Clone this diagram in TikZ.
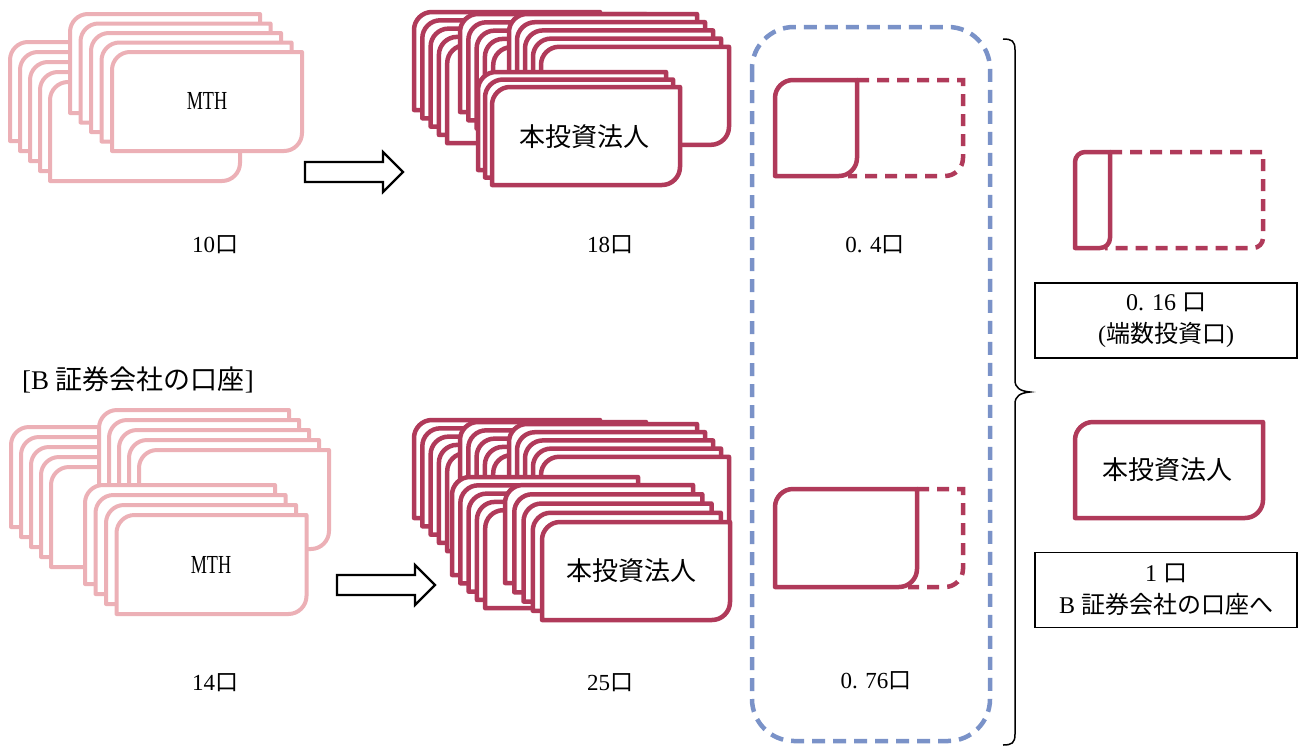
\documentclass[tikz,border=0pt]{standalone}
\usepackage{fontspec}
\setmainfont{Liberation Serif}
\newfontfamily\cjk{Noto Sans CJK JP}
\definecolor{pinkc}{RGB}{236,176,182}
\definecolor{redc}{RGB}{176,58,90}
\definecolor{bluec}{RGB}{122,146,200}
\def\crad{18}
% centerline card: x0 y0 x1 y1
\newcommand\crd[5]{%
 \draw[#1] (#2,#5) -- (#2,{#3+\crad}) .. controls (#2,{#3+\crad*0.45}) and ({#2+\crad*0.45},#3) .. ({#2+\crad},#3)
   -- (#4,#3) -- (#4,{#5-\crad}) .. controls (#4,{#5-\crad*0.45}) and ({#4-\crad*0.45},#5) .. ({#4-\crad},#5) -- cycle;}
% stack: style, X, Y, dx, dy, n, W, H (outer)
\newcommand\stk[8]{\foreach \i in {1,...,#6}{%
  \pgfmathsetmacro\xa{#2+(\i-1)*#4+2}%
  \pgfmathsetmacro\ya{#3+(\i-1)*#5+2}%
  \pgfmathsetmacro\xb{\xa+#7-4}%
  \pgfmathsetmacro\yb{\ya+#8-4}%
  \crd{#1}{\xa}{\ya}{\xb}{\yb}}}
% fraction card: x0 y0 xdiv x1 y1
\newcommand\fcard[5]{%
 \draw[reddash] (#3,#2) -- (#4,#2) -- (#4,{#5-\crad}) .. controls (#4,{#5-\crad*0.45}) and ({#4-\crad*0.45},#5) .. ({#4-\crad},#5) -- ({#3-\crad*0.5},#5);
 \draw[redsolid] (#3,#2) -- ({#1+\crad},#2) .. controls ({#1+\crad*0.45},#2) and (#1,{#2+\crad*0.45}) .. (#1,{#2+\crad}) -- (#1,#5) -- ({#3-\crad},#5) .. controls ({#3-\crad*0.45},#5) and (#3,{#5-\crad*0.45}) .. (#3,{#5-\crad}) -- cycle;}
\tikzset{
 pinkcard/.style={draw=pinkc, line width=4pt, fill=white, line join=round},
 redcard/.style={draw=redc, line width=4.5pt, fill=white, line join=round},
 redsolid/.style={draw=redc, line width=4.5pt, line join=round},
 reddash/.style={draw=redc, line width=4.5pt, dash pattern=on 12pt off 8pt},
 lbl/.style={font=\fontsize{23}{28}\selectfont, inner sep=0pt},
 cardtxt/.style={font=\cjk\fontsize{26}{30}\selectfont, inner sep=0pt},
 mth/.style={font=\fontsize{26}{30}\selectfont, inner sep=0pt, xscale=0.7},
 infobox/.style={draw=black, line width=1.5pt, minimum width=262, minimum height=75, inner sep=0pt, align=center, font=\fontsize{24}{32}\selectfont},
 blockarrow/.style={draw=black, line width=2.2pt, fill=white, line join=miter},
 bracestyle/.style={draw=black, line width=1.5pt}
}
\begin{document}
\begin{tikzpicture}[x=1pt,y=-1pt]
\path[use as bounding box, fill=white] (0,0) rectangle (1306,747);
% ---- top MTH (10)
\stk{pinkcard}{8}{40}{10}{10}{5}{194}{103}
\stk{pinkcard}{68}{12}{10.5}{9.5}{5}{194}{103}
\node[mth] (mth1) at (207,101) {MTH};
% ---- bottom MTH (14)
\stk{pinkcard}{9}{425}{10}{10}{5}{194}{104}
\stk{pinkcard}{97}{408}{10}{10}{5}{194}{103}
\stk{pinkcard}{83}{483}{10.5}{10}{4}{194}{103}
\node[mth] (mth2) at (211,565) {MTH};
% ---- top 本投資法人 (18)
\stk{redcard}{412}{10}{8.3}{8.3}{5}{190}{102}
\stk{redcard}{458}{12}{8.3}{8.3}{5}{190}{102}
\stk{redcard}{507}{12}{8}{8.2}{5}{192}{102}
\stk{redcard}{476}{70}{7}{7.5}{3}{192}{102}
\node[cardtxt] (inv1) at (584,137) {本投資法人};
% ---- bottom 本投資法人 (25)
\stk{redcard}{412}{418}{8.3}{8.3}{5}{190}{102}
\stk{redcard}{458}{420}{8.3}{8.3}{5}{190}{102}
\stk{redcard}{507}{422}{8}{8.2}{5}{192}{102}
\stk{redcard}{450}{475}{8.3}{8.3}{5}{190}{102}
\stk{redcard}{503}{483}{9.25}{9.25}{5}{192}{102}
\node[cardtxt] (inv2) at (631,571) {本投資法人};
% ---- arrows
\coordinate (a1) at (305,152);
\coordinate (a2) at (337,565);
\draw[blockarrow] ([yshift=-10]a1) -- ++(78,0) -- ++(0,-10) -- ++(20,20) -- ++(-20,20) -- ++(0,-10) -- ++(-78,0) -- cycle;
\draw[blockarrow] ([yshift=-10]a2) -- ++(78,0) -- ++(0,-10) -- ++(20,20) -- ++(-20,20) -- ++(0,-10) -- ++(-78,0) -- cycle;
% ---- dashed container
\draw[draw=bluec, line width=4.5pt, dash pattern=on 13pt off 8pt, rounded corners=42pt] (752,27) rectangle (990,741);
\fcard{775}{80}{857}{963}{176}
\fcard{775}{489}{917}{963}{587}
% ---- right column
\def\crad{10}
\fcard{1075}{152}{1110}{1263}{248}
\def\crad{18}
\crd{redcard}{1075}{422}{1263}{518}
\node[cardtxt] (inv3) at (1167,470) {本投資法人};
\node[infobox] (box1) at (1166,320.5) {0. 16 {\cjk 口}\\({\cjk 端数投資口})};
\node[infobox] (box2) at (1166,590) {1 {\cjk 口}\\B {\cjk 証券会社の口座へ}};
% ---- brace
\draw[bracestyle] (1003,39) .. controls (1012,39) and (1015,41) .. (1015,50) -- (1015,380)
  .. controls (1015,388) and (1020,391) .. (1030,392) .. controls (1020,393) and (1015,396) .. (1015,404)
  -- (1015,734) .. controls (1015,743) and (1012,745) .. (1003,745);
% ---- labels
\node[lbl] (l10) at (215,245) {10{\cjk 口}};
\node[lbl] (l18) at (610,245) {18{\cjk 口}};
\node[lbl] (l04) at (875,245) {0. 4{\cjk 口}};
\node[lbl] (l14) at (215,683) {14{\cjk 口}};
\node[lbl] (l25) at (610,683) {25{\cjk 口}};
\node[lbl] (l076) at (876,681) {0. 76{\cjk 口}};
\node[lbl, font=\fontsize{27}{30}\selectfont] (bacct) at (138,380) {[B {\cjk 証券会社の口座}]};
\end{tikzpicture}
\end{document}
